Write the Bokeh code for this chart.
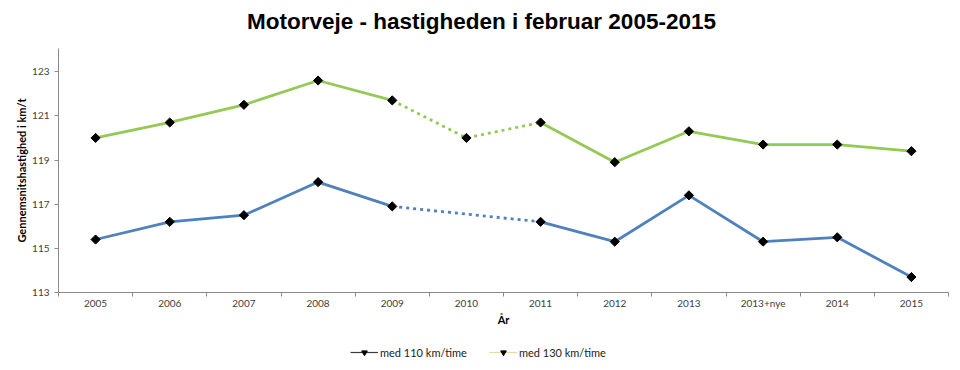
import math
from bokeh.plotting import figure
from bokeh.layouts import column
from bokeh.models import (FactorRange, Range1d, LinearAxis, FixedTicker,
                          CustomJSTickFormatter, Legend, LegendItem, Label)
from bokeh.embed import file_html
from bokeh.resources import INLINE

# ---- data ----
years = ["2005", "2006", "2007", "2008", "2009", "2010", "2011",
         "2012", "2013", "2013+nye", "2014", "2015"]
speed_110 = [115.4, 116.2, 116.5, 118.0, 116.9, float("nan"), 116.2,
             115.3, 117.4, 115.3, 115.5, 113.7]
speed_130 = [120.0, 120.7, 121.5, 122.6, 121.7, 120.0, 120.7,
             118.9, 120.3, 119.7, 119.7, 119.4]
series_names = ["med 110 km/time", "med 130 km/time"]
y_ticks = [113, 115, 117, 119, 121, 123]
gap_from, gap_to = "2009", "2011"   # dotted part of each series
title_text = "Motorveje - hastigheden i februar 2005-2015"

GREEN = "#94C955"
BLUE = "#4F81BD"
AXIS = "#8A8A8A"
W = 952


def bare(fig):
    fig.outline_line_color = None
    fig.grid.grid_line_color = None
    fig.min_border = 0
    return fig


# ---- title strip ----
t = bare(figure(width=W, height=44, x_axis_type=None, y_axis_type=None,
                output_backend="svg", toolbar_location=None))
t.add_layout(Label(x=423, y=23, x_units="screen", y_units="screen",
                   text=title_text, text_align="center",
                   text_baseline="alphabetic", text_font="Liberation Sans",
                   text_font_size="22.5px", text_font_style="bold",
                   text_color="black"))

# ---- main chart ----
p = figure(width=W, height=286,
           x_range=FactorRange(*years), y_range=Range1d(113, 124.05),
           x_axis_type=None, output_backend="svg", toolbar_location=None,
           min_border_left=58, min_border_right=4, min_border_top=4,
           min_border_bottom=38)
p.outline_line_color = None
p.grid.grid_line_color = None


def not_nan(v):
    return not (isinstance(v, float) and math.isnan(v))


def draw(vals, color):
    i0, i1 = years.index(gap_from), years.index(gap_to)
    p.line(years[:i0 + 1], vals[:i0 + 1], line_color=color, line_width=2.8)
    dx = [x for x, v in zip(years[i0:i1 + 1], vals[i0:i1 + 1]) if not_nan(v)]
    dy = [v for v in vals[i0:i1 + 1] if not_nan(v)]
    p.line(dx, dy, line_color=color, line_width=2.8, line_dash="3 4")
    p.line(years[i1:], vals[i1:], line_color=color, line_width=2.8)
    mx = [x for x, v in zip(years, vals) if not_nan(v)]
    my = [v for v in vals if not_nan(v)]
    p.scatter(mx, my, marker="square", angle=math.pi / 4, size=6.5,
              color="black")


draw(speed_130, GREEN)
draw(speed_110, BLUE)

ya = p.yaxis[0]
ya.ticker = FixedTicker(ticks=y_ticks)
ya.axis_line_color = AXIS
ya.major_tick_line_color = AXIS
ya.major_tick_out = 4
ya.major_tick_in = 0
ya.minor_tick_line_color = None
ya.major_label_text_font = "Lato"
ya.major_label_text_font_size = "10px"
ya.major_label_text_color = "#404040"
ya.major_label_standoff = 5
ya.axis_label = "Gennemsnitshastighed i km/t"
ya.axis_label_text_font = "Lato"
ya.axis_label_text_font_size = "11px"
ya.axis_label_text_font_style = "bold"
ya.axis_label_text_color = "black"
ya.axis_label_standoff = 1

# x axis: labels at category centres, tick marks at category boundaries
n = len(years)
centres = [i + 0.5 for i in range(n)]
bounds = list(range(n + 1))
xa = LinearAxis(
    ticker=FixedTicker(ticks=centres, minor_ticks=bounds),
    formatter=CustomJSTickFormatter(args=dict(labels=years),
                                    code="return labels[Math.floor(tick)];"),
    axis_line_color=AXIS, major_tick_line_color=None, major_tick_out=0,
    major_tick_in=0, minor_tick_line_color=AXIS, minor_tick_out=4,
    minor_tick_in=0,
    major_label_text_font="Lato", major_label_text_font_size="10px",
    major_label_text_color="#404040", major_label_standoff=0,
    axis_label="År", axis_label_text_font="Lato",
    axis_label_text_font_size="11px", axis_label_text_font_style="bold",
    axis_label_text_color="black", axis_label_standoff=1)
p.add_layout(xa, "below")

# ---- legend strip (legend styled as in the original) ----
lg = bare(figure(width=W, height=32, x_range=FactorRange(*years),
                 y_range=Range1d(113, 124.05), x_axis_type=None,
                 y_axis_type=None, output_backend="svg",
                 toolbar_location=None))
l1 = lg.line(years, speed_110, line_color="#3C3C3C", line_width=1.2,
             visible=False)
s1 = lg.scatter(years, speed_110, marker="inverted_triangle", size=6,
                color="black", visible=False)
l2 = lg.line(years, speed_130, line_color="#E2DEA0", line_width=1.2,
             visible=False)
s2 = lg.scatter(years, speed_130, marker="inverted_triangle", size=4,
                color="black", visible=False)
legend = Legend(items=[LegendItem(label=series_names[0], renderers=[l1, s1]),
                       LegendItem(label=series_names[1], renderers=[l2, s2])],
                orientation="horizontal", location=(292, 3),
                border_line_color=None, background_fill_alpha=0,
                inactive_fill_alpha=0,
                label_text_font="Lato", label_text_font_size="11px",
                label_text_color="#222222", glyph_width=28, glyph_height=14,
                label_height=14, spacing=22, padding=0, margin=0,
                label_standoff=2)
lg.add_layout(legend, "center")

layout = column(t, p, lg, spacing=0)
open("out.html", "w").write(file_html(layout, INLINE))
